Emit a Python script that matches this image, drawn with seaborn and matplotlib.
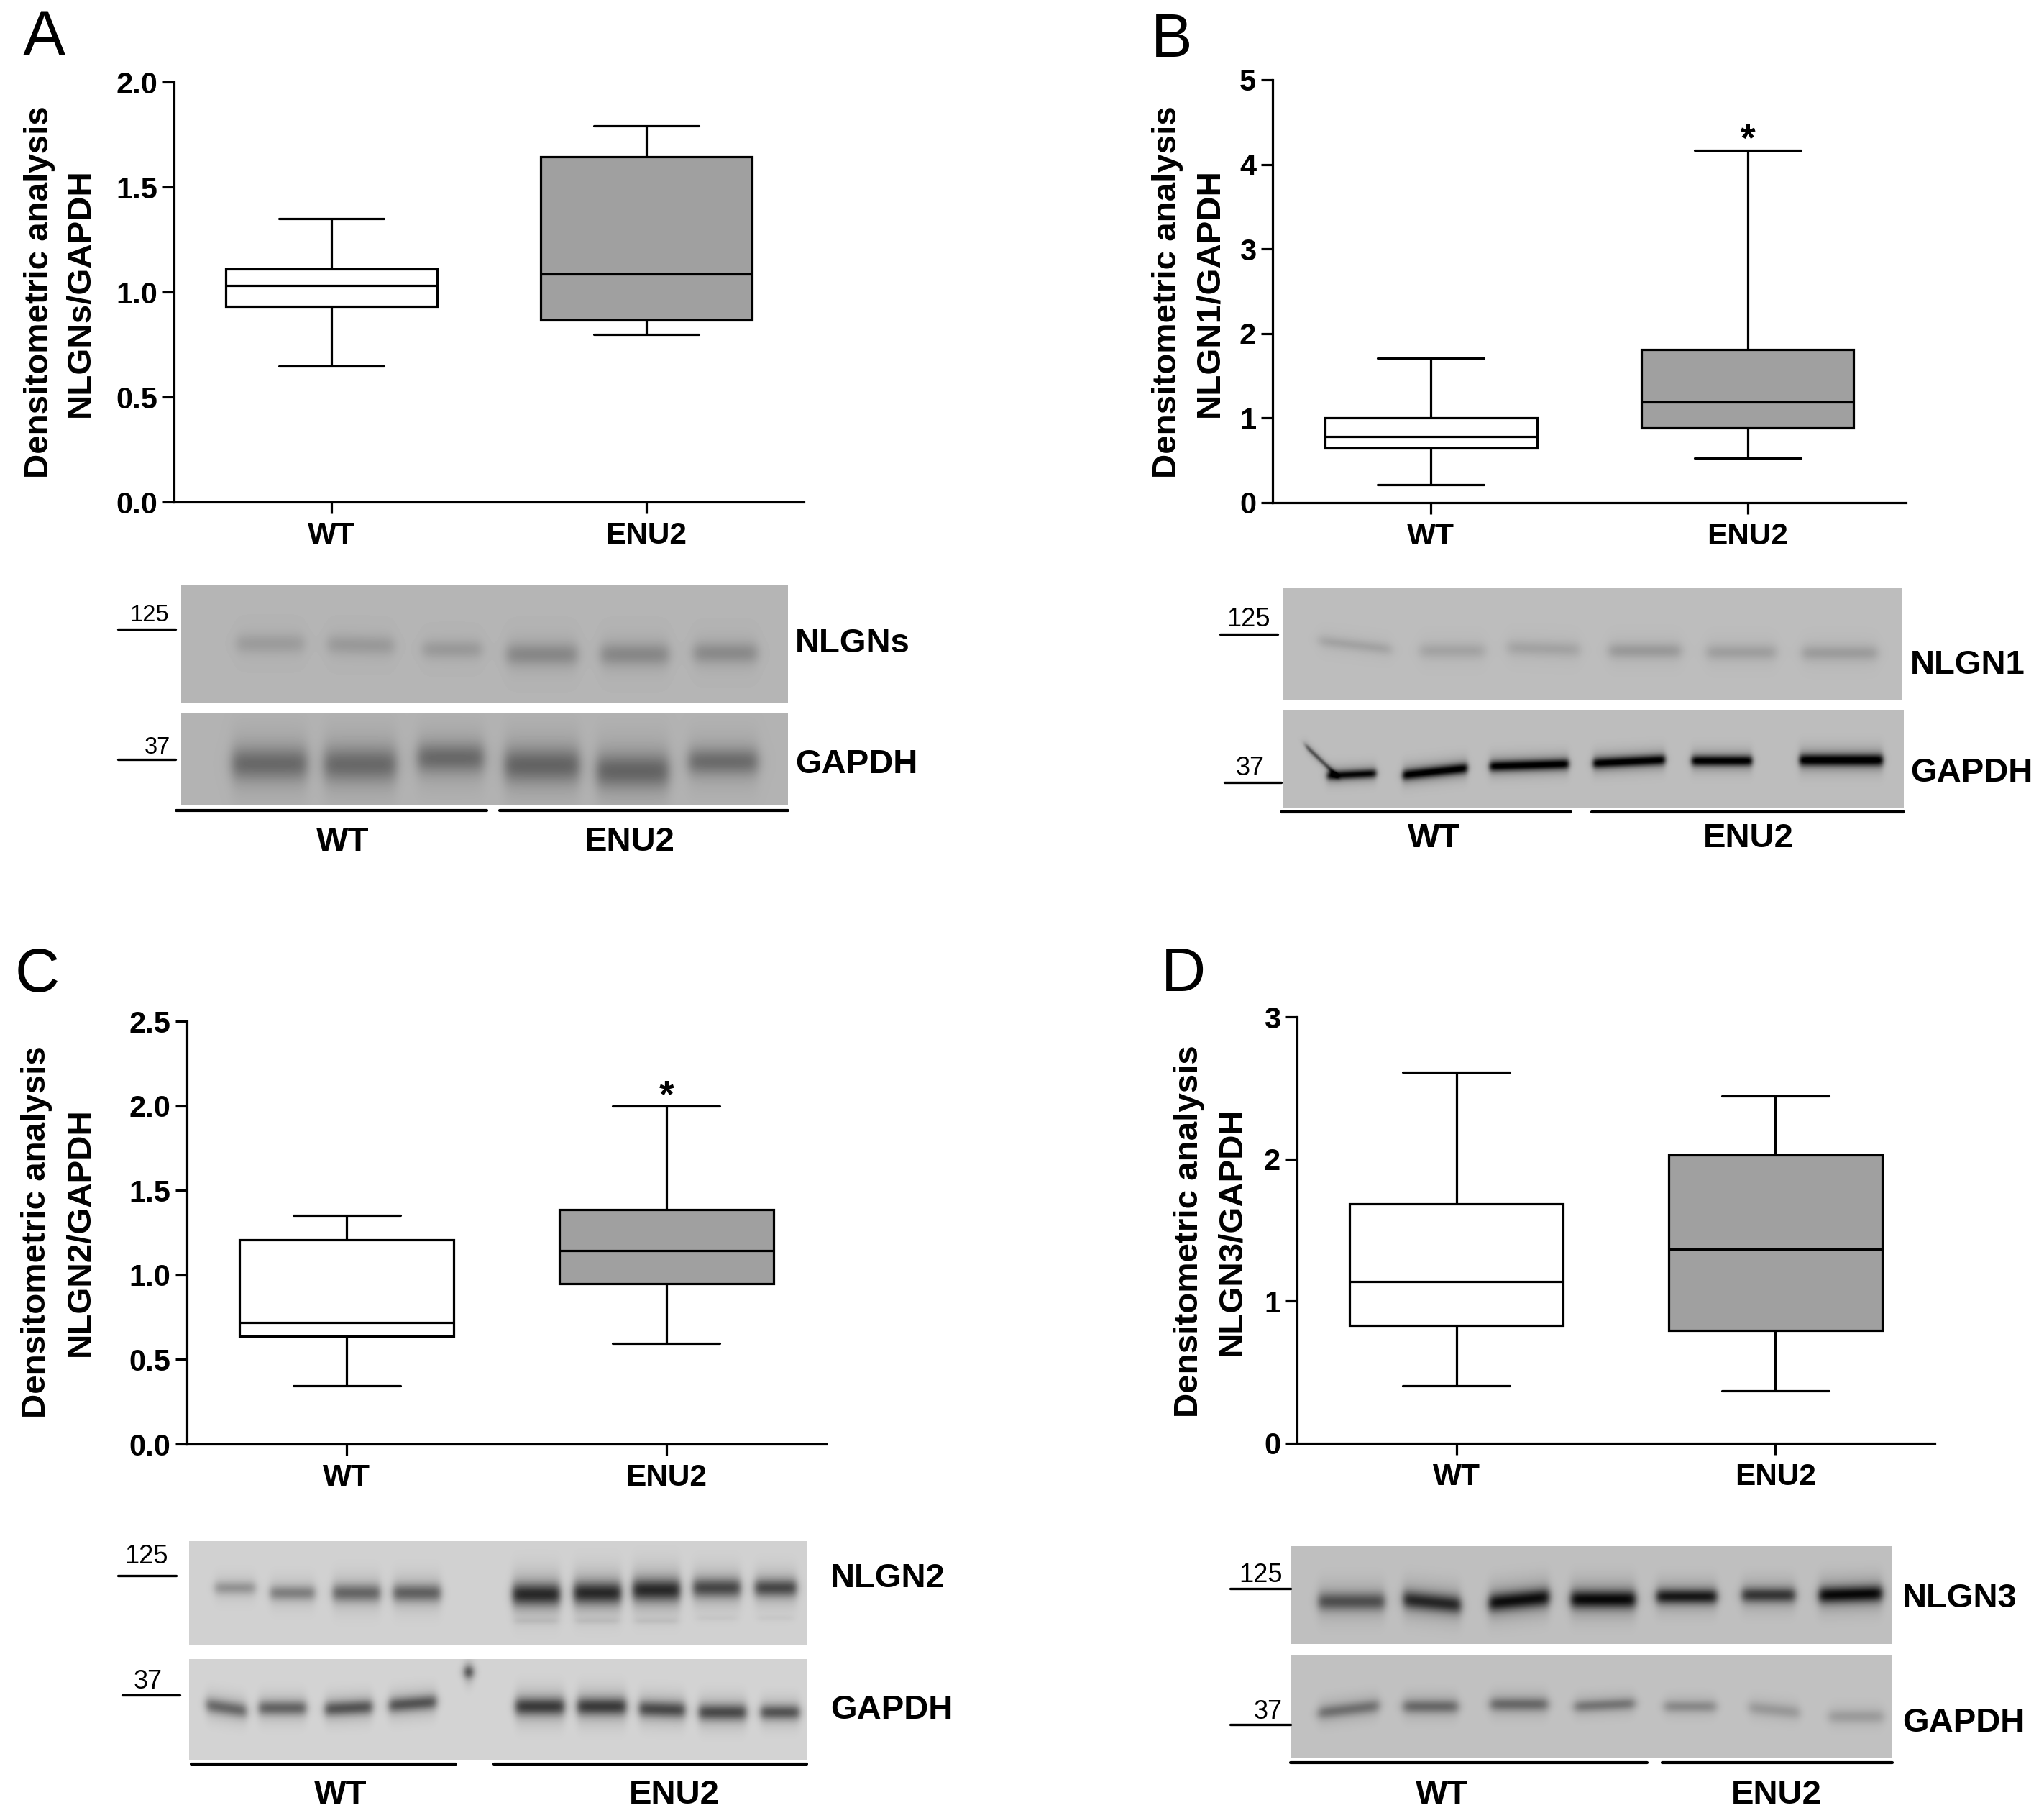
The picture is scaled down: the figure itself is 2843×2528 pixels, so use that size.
import numpy as np
import pandas as pd
import seaborn as sns
import matplotlib.pyplot as plt

W, H = 2843, 2528

sns.set_theme(style="ticks")
plt.rcParams['font.family'] = ['Liberation Sans', 'DejaVu Sans']

groups = ['WT', 'ENU2']

# min, q1, median, q3, max
a_wt = [0.648, 0.93, 1.032, 1.108, 1.351]
a_enu = [0.797, 0.866, 1.084, 1.645, 1.792]
b_wt = [0.21, 0.647, 0.784, 1.007, 1.705]
b_enu = [0.527, 0.887, 1.191, 1.812, 4.169]
c_wt = [0.345, 0.638, 0.72, 1.208, 1.352]
c_enu = [0.596, 0.947, 1.142, 1.388, 1.997]
d_wt = [0.403, 0.829, 1.14, 1.684, 2.612]
d_enu = [0.37, 0.793, 1.365, 2.028, 2.441]

a_ticks = [0.0, 0.5, 1.0, 1.5, 2.0]
b_ticks = [0, 1, 2, 3, 4, 5]
c_ticks = [0.0, 0.5, 1.0, 1.5, 2.0, 2.5]
d_ticks = [0, 1, 2, 3]

# western blot bands: x, y, half width, half height, depth, slope (in image pixels)
a_top = [(376, 895, 47, 13, .10, 0), (502, 897, 46, 13, .11, .02), (629, 903, 41, 12, .11, 0),
         (754, 910, 49, 15, .18, 0), (883, 910, 47, 15, .18, 0), (1009, 908, 44, 14, .17, 0)]
a_bot = [(375, 1062, 52, 22, .29, 0), (501, 1063, 50, 23, .29, 0), (627, 1054, 46, 20, .29, 0),
         (754, 1064, 52, 23, .31, 0), (880, 1072, 50, 23, .31, 0), (1006, 1059, 48, 18, .28, 0)]
b_top = [(1885, 897, 50, 8, .10, .12), (2020, 905, 45, 10, .10, 0), (2147, 902, 50, 10, .10, .03),
         (2288, 905, 50, 10, .14, 0), (2422, 907, 48, 10, .12, 0), (2559, 908, 52, 10, .13, 0)]
b_bot = [(1838, 1058, 22, 4, .42, .95), (1880, 1077, 34, 6, .72, -.05), (1996, 1073, 45, 7, .78, -.11),
         (2127, 1064, 55, 7, .78, -.03), (2266, 1059, 50, 7, .78, -.05), (2395, 1058, 42, 7, .78, 0),
         (2561, 1057, 58, 8, .8, 0)]
c_top = [(327, 2208, 28, 9, .24, 0), (407, 2215, 31, 10, .32, 0), (496, 2215, 33, 12, .42, 0),
         (580, 2215, 33, 12, .44, 0), (746, 2217, 33, 15, .66, 0), (831, 2215, 33, 15, .66, 0),
         (913, 2211, 33, 15, .66, 0), (997, 2208, 33, 13, .54, 0), (1079, 2208, 29, 12, .54, 0),
         (746, 2254, 30, 4, .05, 0), (831, 2254, 30, 4, .05, 0), (913, 2254, 30, 4, .05, 0),
         (997, 2250, 28, 4, .03, 0), (1079, 2250, 25, 4, .03, 0)]
c_bot = [(315, 2375, 28, 10, .42, .15), (393, 2375, 33, 10, .44, 0), (485, 2375, 33, 10, .5, -.05),
         (574, 2369, 33, 10, .5, -.08), (751, 2373, 34, 12, .6, 0), (837, 2373, 34, 12, .6, 0),
         (921, 2377, 32, 11, .54, .03), (1005, 2381, 33, 11, .54, 0), (1085, 2381, 27, 10, .5, 0),
         (652, 2325, 5, 9, .68, 0)]
d_top = [(1880, 2227, 46, 12, .44, 0), (1992, 2228, 40, 12, .6, .1), (2113, 2225, 42, 12, .7, -.1),
         (2230, 2224, 45, 12, .72, 0), (2346, 2220, 42, 10, .66, 0), (2460, 2218, 37, 10, .54, 0),
         (2574, 2217, 44, 11, .72, -.03)]
d_bot = [(1876, 2377, 42, 9, .32, -.12), (1990, 2373, 38, 9, .35, 0), (2113, 2370, 40, 9, .35, 0),
         (2232, 2371, 42, 8, .3, -.05), (2351, 2373, 36, 8, .22, 0), (2468, 2378, 35, 9, .16, .1),
         (2582, 2387, 38, 9, .15, 0)]


def px_axes(fig, left, top, right, bottom):
    return fig.add_axes([left / W, 1 - bottom / H, (right - left) / W, (bottom - top) / H])


def put(fig, x, y, s, size, weight='bold', ha='center', va='center', rot=0):
    fig.text(x / W, 1 - y / H, s, fontsize=size, fontweight=weight, ha=ha, va=va,
             rotation=rot, color='black')


def rule(fig, x0, x1, y, lw=2.4):
    fig.add_artist(plt.Line2D([x0 / W, x1 / W], [1 - y / H, 1 - y / H], color='black', lw=lw))


def draw_box(fig, box, wt, enu, ticks, fmt, star=None):
    ax = px_axes(fig, *box)
    df = pd.DataFrame({'group': ['WT'] * 5 + ['ENU2'] * 5, 'value': wt + enu})
    sns.boxplot(data=df, x='group', y='value', hue='group', order=groups, hue_order=groups,
                palette=['white', '#a0a0a0'], saturation=1, linecolor='black', linewidth=2.3,
                width=.67, whis=(0, 100), fliersize=0, legend=False, ax=ax)
    ax.set_xlim(-0.5, 1.5)
    ax.set_ylim(ticks[0], ticks[-1])
    ax.set_yticks(ticks)
    ax.set_yticklabels([fmt % t for t in ticks], fontsize=30, fontweight='bold')
    ax.set_xticks([0, 1])
    ax.set_xticklabels(groups, fontsize=30.5, fontweight='bold')
    ax.set(xlabel=None, ylabel=None)
    ax.tick_params(width=2.3, length=11.5, color='black', labelcolor='black')
    ax.tick_params(axis='x', pad=8)
    ax.tick_params(axis='y', pad=5)
    for s in ['left', 'bottom']:
        ax.spines[s].set_linewidth(2.3)
        ax.spines[s].set_color('black')
    sns.despine(ax=ax)
    ax.patch.set_alpha(0)
    if star is not None:
        ax.text(1, star, '*', fontsize=38, fontweight='bold', ha='center', va='center', color='black')
    return ax


def draw_blot(fig, box, bg, bands, soft=6):
    left, top, right, bottom = box
    ax = px_axes(fig, left, top, right, bottom)
    X, Y = np.meshgrid(np.arange(left, right) + .5, np.arange(top, bottom) + .5)
    img = np.full(X.shape, float(bg))
    for cx, cy, hw, hh, depth, slope in bands:
        mx = 0.5 * (np.tanh((X - cx + hw) / soft) - np.tanh((X - cx - hw) / soft))
        d = Y - cy - slope * (X - cx)
        # dark core with a wider diffuse halo, as on film
        my = 0.72 * np.exp(-(d / hh) ** 2) + 0.28 * np.exp(-(d / (2.1 * hh)) ** 2)
        img -= depth * mx * my
    ax.imshow(np.clip(img, 0, 1), cmap='gray', vmin=0, vmax=1, aspect='auto', interpolation='bilinear')
    ax.axis('off')


fig = plt.figure(figsize=(W / 100, H / 100), dpi=100, facecolor='white')

# panel A
draw_box(fig, (242, 114, 1118, 698), a_wt, a_enu, a_ticks, '%.1f')
put(fig, 55, 406, 'Densitometric analysis', 34.2, rot=90)
put(fig, 111, 407, 'NLGNs/GAPDH', 34.2, rot=90)
put(fig, 61, 77, 'A', 64, weight='normal', va='baseline')
draw_blot(fig, (252, 813, 1096, 977), .71, a_top, soft=9)
draw_blot(fig, (252, 991, 1096, 1120), .70, a_bot, soft=9)
rule(fig, 164, 244, 875)
rule(fig, 164, 244, 1056)
put(fig, 208, 856, '125', 23.5, weight='normal')
put(fig, 219, 1040, '37', 23.5, weight='normal')
put(fig, 1106, 895, 'NLGNs', 34, ha='left')
put(fig, 1106, 1063, 'GAPDH', 34, ha='left')
rule(fig, 245, 677, 1127, 3)
rule(fig, 695, 1096, 1127, 3)
put(fig, 477, 1171, 'WT', 34)
put(fig, 876, 1171, 'ENU2', 34)

# panel B
draw_box(fig, (1770, 111, 2651, 699), b_wt, b_enu, b_ticks, '%d', star=4.28)
put(fig, 1624, 406, 'Densitometric analysis', 34.2, rot=90)
put(fig, 1682, 407, 'NLGN1/GAPDH', 34.2, rot=90)
put(fig, 1630, 79, 'B', 62, weight='normal', va='baseline')
draw_blot(fig, (1785, 817, 2646, 973), .74, b_top, soft=8)
draw_blot(fig, (1785, 987, 2648, 1124), .74, b_bot, soft=4)
rule(fig, 1697, 1777, 882)
rule(fig, 1703, 1782, 1088)
put(fig, 1736, 862, '125', 26, weight='normal')
put(fig, 1739, 1069, '37', 26, weight='normal')
put(fig, 2657, 925, 'NLGN1', 34, ha='left')
put(fig, 2657, 1075, 'GAPDH', 34, ha='left')
rule(fig, 1782, 2185, 1129, 3)
rule(fig, 2214, 2648, 1129, 3)
put(fig, 1995, 1166, 'WT', 34)
put(fig, 2432, 1166, 'ENU2', 34)

# panel C
draw_box(fig, (260, 1420, 1149, 2008), c_wt, c_enu, c_ticks, '%.1f', star=2.05)
put(fig, 51, 1713, 'Densitometric analysis', 34.2, rot=90)
put(fig, 111, 1713, 'NLGN2/GAPDH', 34.2, rot=90)
put(fig, 52, 1379, 'C', 62, weight='normal', va='baseline')
draw_blot(fig, (263, 2143, 1122, 2288), .82, c_top, soft=6)
draw_blot(fig, (263, 2307, 1122, 2447), .83, c_bot, soft=6)
rule(fig, 164, 245, 2191)
rule(fig, 170, 250, 2357)
put(fig, 204, 2164, '125', 26, weight='normal')
put(fig, 206, 2339, '37', 26, weight='normal')
put(fig, 1155, 2195, 'NLGN2', 34, ha='left')
put(fig, 1155, 2378, 'GAPDH', 34, ha='left')
rule(fig, 266, 634, 2453, 3)
rule(fig, 687, 1122, 2453, 3)
put(fig, 474, 2496, 'WT', 34)
put(fig, 938, 2496, 'ENU2', 34)

# panel D
draw_box(fig, (1804, 1414, 2691, 2007), d_wt, d_enu, d_ticks, '%d')
put(fig, 1654, 1712, 'Densitometric analysis', 34.2, rot=90)
put(fig, 1713, 1712, 'NLGN3/GAPDH', 34.2, rot=90)
put(fig, 1646, 1378, 'D', 62, weight='normal', va='baseline')
draw_blot(fig, (1795, 2150, 2632, 2286), .75, d_top, soft=6)
draw_blot(fig, (1795, 2301, 2632, 2444), .76, d_bot, soft=7)
rule(fig, 1711, 1795, 2209)
rule(fig, 1711, 1795, 2398)
put(fig, 1754, 2190, '125', 26, weight='normal')
put(fig, 1764, 2380, '37', 26, weight='normal')
put(fig, 2646, 2223, 'NLGN3', 34, ha='left')
put(fig, 2646, 2396, 'GAPDH', 34, ha='left')
rule(fig, 1795, 2291, 2451, 3)
rule(fig, 2312, 2632, 2451, 3)
put(fig, 2006, 2496, 'WT', 34)
put(fig, 2471, 2496, 'ENU2', 34)

fig.savefig('out.png', dpi=100, facecolor='white')
